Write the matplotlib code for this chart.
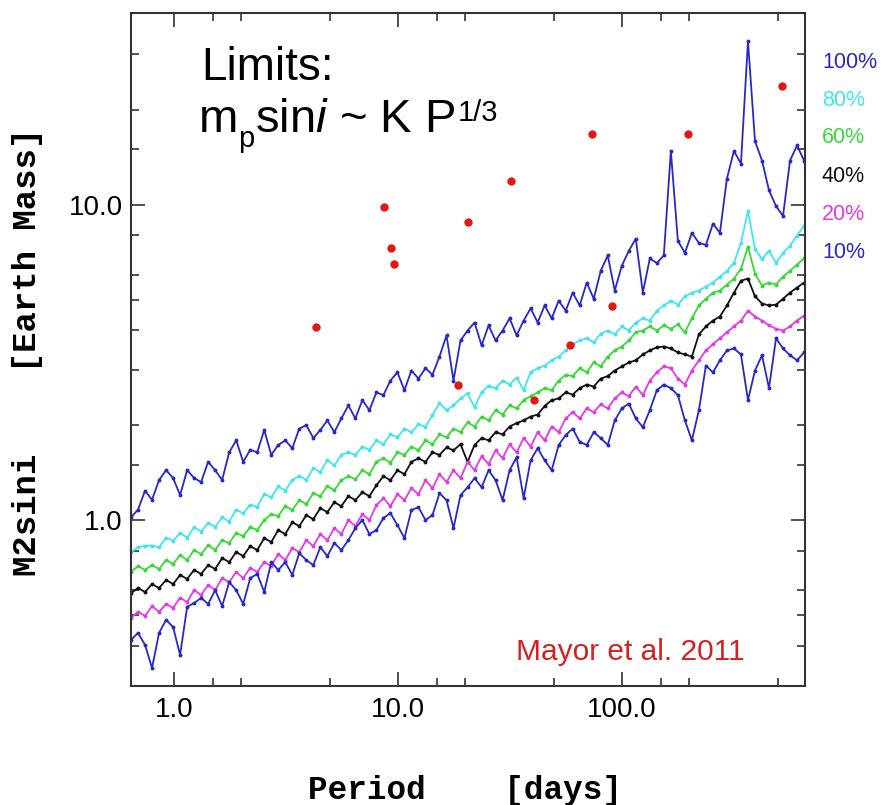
import matplotlib
matplotlib.use('Agg')
import matplotlib.pyplot as plt
from matplotlib.ticker import FixedLocator, NullFormatter
import numpy as np


# Fonts: Helvetica-like for numbers, Courier-like bold for axis titles
plt.rc('font', **{'family': 'sans-serif', 'sans-serif': ['Liberation Sans'], 'size': 18})
plt.rcParams['mathtext.fontset'] = 'custom'
plt.rcParams['mathtext.rm'] = 'Liberation Sans'
plt.rcParams['mathtext.it'] = 'Liberation Sans:italic'

## Data
# common period grid [days]
period = [0.642, 0.690, 0.742, 0.797, 0.857, 0.921, 0.990, 1.064, 1.144, 1.229,
          1.321, 1.420, 1.526, 1.640, 1.763, 1.895, 2.037, 2.189, 2.353, 2.529,
          2.718, 2.921, 3.140, 3.375, 3.627, 3.898, 4.190, 4.503, 4.840, 5.202,
          5.591, 6.010, 6.459, 6.942, 7.462, 8.020, 8.620, 9.265, 9.958, 10.70,
          11.50, 12.36, 13.29, 14.28, 15.35, 16.50, 17.73, 19.06, 20.49, 22.02,
          23.67, 25.44, 27.34, 29.38, 31.58, 33.95, 36.49, 39.21, 42.15, 45.30,
          48.69, 52.33, 56.25, 60.45, 64.97, 69.84, 75.06, 80.67, 86.71, 93.19,
          100.2, 107.7, 115.7, 124.4, 133.7, 143.7, 154.4, 166.0, 178.4, 191.8,
          206.1, 221.5, 238.1, 255.9, 275.0, 295.6, 317.7, 341.5, 367.0, 394.5,
          424.0, 455.7, 489.8, 526.4, 565.8, 608.1, 653.6]

# detection limits [Earth mass] for each fraction of excluded orbits
lim100 = [1.02, 1.08, 1.24, 1.16, 1.34, 1.44, 1.36, 1.20, 1.44, 1.36,
          1.32, 1.53, 1.44, 1.34, 1.64, 1.79, 1.53, 1.67, 1.64, 1.93,
          1.61, 1.73, 1.79, 1.69, 1.95, 2.00, 1.82, 1.93, 2.07, 1.90,
          2.10, 2.31, 2.10, 2.40, 2.23, 2.54, 2.49, 2.77, 2.94, 2.58,
          2.98, 2.81, 3.03, 2.89, 3.30, 3.85, 2.77, 3.71, 3.99, 4.23,
          3.58, 4.14, 3.71, 3.99, 4.36, 3.85, 4.29, 4.69, 4.23, 4.79,
          4.36, 4.96, 4.61, 5.26, 4.79, 5.66, 5.03, 6.17, 6.90, 5.34,
          6.40, 7.14, 7.80, 5.26, 6.75, 6.53, 6.90, 14.8, 7.68, 7.03,
          8.14, 7.56, 7.45, 8.70, 8.14, 12.1, 14.8, 13.5, 33.0, 15.9,
          13.8, 11.1, 9.9, 9.2, 13.8, 15.4, 13.8]
lim80 = [0.79, 0.82, 0.83, 0.83, 0.82, 0.88, 0.86, 0.91, 0.88, 0.95,
         0.92, 0.98, 0.95, 1.02, 0.99, 1.08, 1.05, 1.12, 1.10, 1.21,
         1.18, 1.28, 1.24, 1.34, 1.38, 1.34, 1.46, 1.42, 1.55, 1.49,
         1.61, 1.64, 1.61, 1.71, 1.67, 1.79, 1.74, 1.87, 1.83, 1.95,
         1.90, 2.01, 1.98, 2.15, 2.35, 2.23, 2.31, 2.43, 2.52, 2.28,
         2.54, 2.67, 2.62, 2.77, 2.69, 2.83, 2.58, 2.94, 3.03, 3.09,
         3.21, 3.30, 3.45, 3.61, 3.71, 3.77, 3.66, 3.90, 3.99, 3.88,
         4.11, 3.99, 4.23, 4.36, 4.29, 4.61, 4.79, 4.96, 4.82, 5.12,
         5.26, 5.34, 5.50, 5.66, 5.91, 6.17, 6.54, 7.56, 9.56, 7.24,
         6.72, 7.14, 6.54, 7.03, 7.41, 7.98, 8.58]
lim60 = [0.685, 0.715, 0.695, 0.72, 0.70, 0.747, 0.726, 0.775, 0.747, 0.804,
         0.78, 0.833, 0.804, 0.864, 0.846, 0.91, 0.89, 0.95, 0.93, 1.00,
         1.045, 1.030, 1.107, 1.076, 1.157, 1.124, 1.217, 1.191, 1.281, 1.244,
         1.338, 1.378, 1.348, 1.439, 1.398, 1.53, 1.57, 1.52, 1.64, 1.61,
         1.71, 1.665, 1.79, 1.74, 1.87, 1.83, 1.95, 1.90, 2.04, 1.98,
         2.13, 2.07, 2.23, 2.16, 2.31, 2.26, 2.40, 2.47, 2.54, 2.62,
         2.58, 2.77, 2.89, 2.86, 3.03, 2.94, 3.16, 3.07, 3.30, 3.45,
         3.55, 3.71, 3.94, 3.99, 4.11, 3.99, 4.14, 4.04, 4.17, 3.94,
         4.36, 4.79, 5.03, 5.26, 5.34, 5.58, 5.83, 6.26, 7.35, 6.04,
         5.54, 5.66, 5.58, 5.91, 6.17, 6.46, 6.75]
lim40 = [0.587, 0.609, 0.592, 0.627, 0.609, 0.646, 0.627, 0.670, 0.651, 0.695,
         0.675, 0.720, 0.700, 0.758, 0.736, 0.792, 0.769, 0.827, 0.804, 0.877,
         0.852, 0.930, 0.903, 0.985, 0.957, 1.037, 1.007, 1.091, 1.060, 1.140,
         1.107, 1.191, 1.157, 1.226, 1.191, 1.290, 1.378, 1.338, 1.439, 1.398,
         1.53, 1.57, 1.53, 1.64, 1.61, 1.70, 1.665, 1.74, 1.53, 1.73,
         1.82, 1.79, 1.90, 1.87, 1.98, 2.03, 2.07, 2.13, 2.16, 2.30,
         2.40, 2.43, 2.54, 2.50, 2.62, 2.69, 2.65, 2.81, 2.86, 2.98,
         3.07, 3.16, 3.21, 3.35, 3.45, 3.53, 3.55, 3.50, 3.40, 3.35,
         3.30, 3.88, 4.11, 4.29, 4.42, 4.79, 5.26, 5.74, 5.83, 5.12,
         4.86, 4.79, 4.82, 5.03, 5.26, 5.46, 5.66]
lim20 = [0.490, 0.512, 0.497, 0.534, 0.512, 0.542, 0.527, 0.567, 0.550, 0.600,
         0.579, 0.623, 0.600, 0.655, 0.636, 0.685, 0.655, 0.705, 0.685, 0.736,
         0.715, 0.781, 0.747, 0.815, 0.792, 0.864, 0.827, 0.903, 0.864, 0.943,
         0.903, 1.000, 0.957, 1.045, 1.000, 1.115, 1.174, 1.107, 1.208, 1.157,
         1.262, 1.208, 1.338, 1.262, 1.398, 1.32, 1.439, 1.358, 1.53, 1.439,
         1.594, 1.504, 1.665, 1.57, 1.74, 1.64, 1.82, 1.71, 1.90, 1.79,
         1.98, 1.90, 2.10, 2.20, 2.10, 2.26, 2.20, 2.33, 2.26, 2.43,
         2.54, 2.47, 2.65, 2.49, 2.77, 2.94, 3.07, 3.03, 2.81, 2.69,
         2.98, 3.21, 3.45, 3.61, 3.77, 3.94, 4.11, 4.29, 4.61, 4.42,
         4.29, 4.14, 4.04, 3.99, 4.11, 4.29, 4.45]
lim10 = [0.417, 0.439, 0.402, 0.340, 0.439, 0.483, 0.458, 0.374, 0.531, 0.546,
         0.567, 0.542, 0.600, 0.534, 0.636, 0.600, 0.542, 0.655, 0.675, 0.592,
         0.736, 0.695, 0.736, 0.670, 0.786, 0.747, 0.720, 0.821, 0.769, 0.846,
         0.804, 0.864, 0.943, 1.000, 0.903, 0.930, 1.015, 1.052, 0.964, 0.877,
         1.076, 1.099, 1.000, 1.037, 1.217, 1.157, 0.943, 1.20, 1.271, 1.358,
         1.271, 1.439, 1.338, 1.157, 1.439, 1.582, 1.174, 1.548, 1.69, 1.548,
         1.439, 1.73, 1.86, 1.95, 1.77, 1.73, 1.90, 1.82, 1.73, 2.07,
         2.26, 2.34, 2.10, 1.97, 2.23, 2.58, 2.69, 2.62, 2.49, 2.07,
         1.79, 2.23, 3.09, 2.94, 3.21, 3.45, 3.50, 3.35, 2.40, 2.98,
         3.33, 2.62, 3.77, 3.50, 3.33, 3.21, 3.40]

# detected planets
planetPeriod = [4.31, 8.7, 9.35, 9.64, 20.5, 31.9, 74.1, 197, 520, 18.5, 40.4, 58.5, 90.2]
planetMass = [4.08, 9.86, 7.31, 6.5, 8.83, 11.9, 16.8, 16.7, 23.8, 2.69, 2.40, 3.58, 4.76]

curveLabels = ['100%', '80%', '60%', '40%', '20%', '10%']
curveColors = ['#2828c8', '#44e4ee', '#38d838', '#111111', '#e03ce0', '#2828c8']
curves = [lim100, lim80, lim60, lim40, lim20, lim10]

## Plotting
fig = plt.figure(figsize=(8.85, 8.05), dpi=100)
W, H = 885, 805
ax = fig.add_axes([131/W, 1 - 686/H, (805-131)/W, (686-13)/H])

for lim, col in zip(curves, curveColors):
    ax.plot(period, lim, color=col, lw=1.3, marker='o', ms=1.8, mec=col, mfc=col)

ax.plot(planetPeriod, planetMass, 'o', color='#e41616', ms=6, mec='none', zorder=5)

ax.set_xscale('log')
ax.set_yscale('log')
ax.set_xlim(0.642, 660)
ax.set_ylim(0.298, 40.5)

## Ticks
ax.xaxis.set_major_locator(FixedLocator([1, 10, 100]))
ax.set_xticklabels(['1.0', '10.0', '100.0'])
ax.xaxis.set_minor_locator(FixedLocator([1.5, 2, 5, 15, 20, 50, 150, 200, 500]))
ax.yaxis.set_major_locator(FixedLocator([1, 10]))
ax.set_yticklabels(['1.0', '10.0'])
ax.yaxis.set_minor_locator(FixedLocator([0.4, 0.5, 0.6, 0.8, 1.5, 2, 3, 4, 5, 6, 8, 15, 20, 30]))
ax.xaxis.set_minor_formatter(NullFormatter())
ax.yaxis.set_minor_formatter(NullFormatter())

ax.tick_params(which='both', direction='in', top=True, right=True, color='#333333', width=1.2)
ax.tick_params(which='major', length=10, labelsize=20)
ax.tick_params(which='minor', length=6)
ax.tick_params(axis='x', which='major', pad=8)
ax.tick_params(axis='y', which='major', pad=6)
for s in ax.spines.values():
    s.set_color('#333333')
    s.set_linewidth(1.5)

## Axis titles
fig.text(465/W, 1 - 790/H, 'Period    [days]', family='Liberation Mono', weight='bold',
         fontsize=23.5, ha='center', va='center')
fig.text(28/W, 1 - 352/H, 'M2sini    [Earth Mass]', family='Liberation Mono', weight='bold',
         fontsize=24.5, ha='center', va='center', rotation=90)

## Annotations (second line built from pieces to get the sub/superscript sizes)
fig.text(201/W, 1 - 80/H, 'Limits:', fontsize=33, ha='left', va='baseline')
renderer = fig.canvas.get_renderer()
tm = fig.text(199/W, 1 - 132/H, 'm', fontsize=34, ha='left', va='baseline')
xm = tm.get_window_extent(renderer).x1
tp = fig.text(xm/W, 1 - 147/H, 'p', fontsize=21, ha='left', va='baseline')
xs = tp.get_window_extent(renderer).x1
tRest = fig.text(xs/W, 1 - 132/H, r'sin$\mathit{i}$ ~ K P', fontsize=34, ha='left', va='baseline')
xp = tRest.get_window_extent(renderer).x1
fig.text(xp/W + 3/W, 1 - 121/H, '1/3', fontsize=21, ha='left', va='baseline')

fig.text(516/W, 1 - 660/H, 'Mayor et al. 2011', fontsize=21.5, color='#d42020',
         ha='left', va='baseline')

baselines = [68, 106, 143, 182, 220, 258]
for lab, col, yb in zip(curveLabels, curveColors, baselines):
    fig.text(822/W, 1 - yb/H, lab, fontsize=15.5, color=col, ha='left', va='baseline')

fig.savefig('out.png', dpi=100)
